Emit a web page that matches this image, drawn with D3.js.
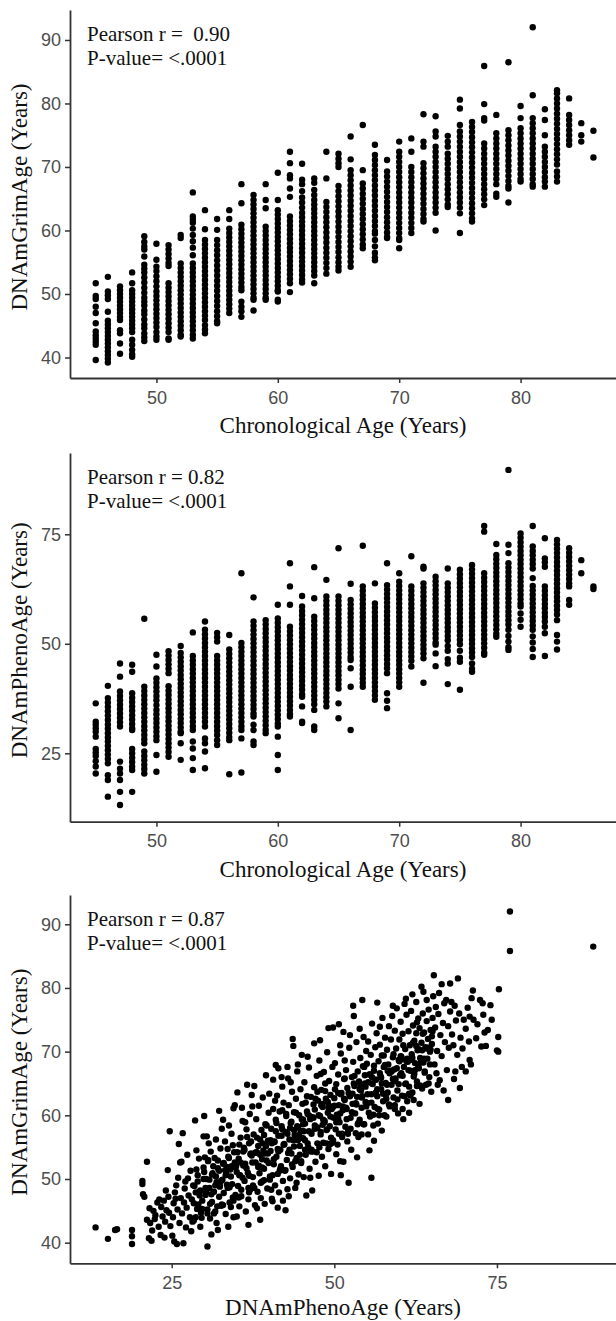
<!DOCTYPE html>
<html>
<head>
<meta charset="utf-8">
<script src="https://cdn.jsdelivr.net/npm/d3@7"></script>
<style>
  body { margin: 0; background: #fff; }
  svg { display: block; }
</style>
</head>
<body>
<svg id="chart" width="616" height="1321"></svg>
<script>
// Chronological ages on the x axis of the first two panels
const ages = [45,46,47,48,49,50,51,52,53,54,55,56,57,58,59,60,61,62,63,64,65,
  66,67,68,69,70,71,72,73,74,75,76,77,78,79,80,81,82,83,84,85,86];

// DNAmGrimAge values per chronological age
const grimByAge = [
  [51.7,49.7,49.2,48,47,45.4,44.1,43.5,43,42.5,42,39.6],
  [52.7,50.4,49.8,49.2,47.2,45.8,45.2,44.6,44,43.4,42.8,42.2,41.6,41,40.4,39.8,39.2],
  [51.2,50.6,50,49.4,48.8,48.2,47.6,47,46.4,45.9,44.3,43.8,42.2,40.6],
  [53.4,51.7,50.6,50,49.4,48.8,48.2,47.6,47,46.4,45.8,45.2,44.6,44,42.8,42,41.2,40.5,40.1],
  [59.1,58.2,57.5,57,55.9,54.6,54,53.4,52.6,51.8,51,50.2,49.4,48.8,48.2,47.4,46.8,46,45.2,44.6,43.8,43.2,42.6],
  [57.9,55.4,54.3,53.6,52.8,52,51.2,50.4,49.7,49,48.3,47.6,46.9,46.2,45.5,44.8,44,43.3,42.8],
  [57.7,57,56.3,55.6,54.9,54.4,51.7,51,50.3,49.6,48.9,48.2,47.5,46.8,46.1,45.4,44.7,44,43,42.8],
  [59.3,58.8,54.8,54.1,53.4,52.7,52,51.3,50.6,49.9,49.2,48.5,47.8,47.1,46.4,45.7,45,44.3,43.6,43.3],
  [66,62.2,61.7,61.2,60.3,59.3,58.3,57.3,56.1,54.8,54.1,53.4,52.7,52,51.3,50.6,49.9,49.2,48.5,47.8,47.1,46.4,45.7,45,44.3,43.6,43],
  [63.2,60.2,58.5,57.8,57.1,56.4,55.7,55,54.3,53.6,52.9,52.2,51.5,50.8,50.1,49.4,48.7,48,47.3,46.6,45.9,45.1,44.4,43.8],
  [61.8,60.1,58.5,57.7,56.9,56.1,55.3,54.5,53.7,52.9,52.1,51.3,50.5,49.7,48.9,48.1,47.3,46.5,45.7,45.4],
  [63.2,61.8,60.3,59.6,58.9,58.2,57.5,56.8,56.1,55.4,54.7,54,53.3,52.6,51.9,51.2,50.5,49.8,49.1,48.4,47.7,47],
  [67.3,64.3,60.9,60.2,59.5,58.8,58.1,57.4,56.7,56,55.3,54.6,53.9,53.2,52.5,51.8,51.1,50.6,48.8,48,47.3,46.4],
  [65.6,64.8,64.1,63.4,62.7,62,61.3,60.6,59.9,59.2,58.5,57.8,57.1,56.4,55.7,55,54.3,53.6,52.9,52.2,51.5,50.8,50.1,49.4,49.1,47.4],
  [67.3,64.8,63.5,60.6,59.9,59.2,58.5,57.8,57.1,56.4,55.7,55,54.3,53.6,52.9,52.2,51.5,50.8,50.1,49.4,49.1],
  [69.1,64.8,63.2,62.5,61.8,61.1,60.4,59.7,59,58.3,57.6,56.9,56.2,55.5,54.8,54.1,53.4,52.7,52,51.3,50.6,50.4,49.1,48.8],
  [72.4,70.6,68.7,68.2,66.6,65.3,62.2,61.5,60.8,60.1,59.4,58.7,58,57.3,56.6,55.9,55.2,54.5,53.8,53.1,52.4,51.7,50.3],
  [70.5,68,67.3,66.2,65.2,64.4,63.6,62.8,62.1,61.4,60.7,60,59.3,58.6,57.9,57.2,56.5,55.8,55.1,54.4,53.7,53,52.3,51.8],
  [68.2,67.5,66.4,65.6,64.8,64.1,63.4,62.7,62,61.3,60.6,59.9,59.2,58.5,57.8,57.1,56.4,55.7,55,54.3,53.6,52.9,51.7],
  [72.4,68.2,64.5,63.7,62.9,62.1,61.3,60.5,59.7,58.9,58.1,57.3,56.5,55.7,54.9,54.1,53.2],
  [72.1,71.3,70.6,70,67,66.2,65.4,64.6,63.8,63,62.2,61.4,60.6,59.8,59,58.2,57.4,56.6,55.8,55,54.3,53.7],
  [74.8,71.2,69.5,68.7,67.9,67.1,66.3,65.5,64.7,63.9,63.1,62.3,61.5,60.7,59.9,59.1,58.3,57.5,56.7,55.9,55.1,54.3],
  [76.6,69.5,67.4,66.6,65.8,65,64.2,63.4,62.6,61.8,61,60.2,59.4,58.6,57.8,57.2],
  [73.5,71.9,71.1,70.3,69.5,68.7,67.9,67.1,66.3,65.5,64.7,63.9,63.1,62.3,61.5,60.7,59.9,59.5,58.5,57.5,56.5,55.8,55.3],
  [71.1,69.3,68.5,67.7,66.9,66.1,65.3,64.5,63.7,62.9,62.1,61.3,60.5,59.7,59,58.8],
  [74,72.4,71.6,70.8,70,69.2,68.4,67.6,66.8,66,65.2,64.4,63.6,62.8,62,61.2,60.4,59.6,58.8,58.5,57.2],
  [74.5,72.4,70,69.2,68.4,67.6,66.8,66,65.2,64.4,63.6,62.8,62,61.2,60.4,59.6],
  [78.3,74,73.2,70.6,69.8,69,68.2,67.4,66.6,65.8,65,64.2,63.4,62.6,61.8,61.4],
  [78,75.6,74.8,73.2,72.4,71.6,70.8,70,69.2,68.4,67.6,66.8,66,65.2,64.4,63.6,62.8,60],
  [74.9,74,73.2,72.1,71.3,70.5,69.7,68.9,68.1,67.3,66.5,65.7,64.9,64.1,63.7],
  [80.6,79.2,76.6,75.6,74.8,74,73.2,72.4,71.6,70.8,70,69.2,68.4,67.6,66.8,66,65.2,64.4,63.6,62.7,59.6],
  [77.1,76.3,75.5,74.7,73.9,73.1,72.3,71.5,70.7,69.9,69.1,68.3,67.5,66.7,65.9,65.1,64.3,63.5,62.7,61.9,61.4],
  [85.9,79.9,77.7,77.3,73.7,72.9,72.1,71.3,70.5,69.7,68.9,68.1,67.3,66.5,65.7,64.9,64],
  [78.2,75.3,74.5,73.7,72.9,72.1,71.3,70.5,69.7,68.9,68.1,67.3,65.8,65.3],
  [86.5,75.8,75,74.2,73.4,72.6,71.8,71,70.2,69.4,68.6,67.8,67,66.6,64.4],
  [79.6,77.7,76.1,75.3,74.5,73.7,72.9,72.1,71.3,70.5,69.7,68.9,68.1,67.7],
  [92,81.3,77.7,76.9,76.1,75.3,74.5,73.7,72.9,72.1,71.3,70.5,69.7,68.9,68.1,67.3,66.9],
  [79.1,77.4,75,73.2,72.4,71.6,70.8,70,69.2,68.4,67.7,66.9],
  [82.1,81.6,80.8,80,79.2,78.4,77.6,76.8,76,75.2,74.4,73.6,72.8,72,71.2,70.4,69.3,68.5,67.7],
  [80.8,78.2,77.4,76.6,75.8,75,74.2,73.5],
  [76.9,75,74],
  [75.7,71.5]
];

// DNAmPhenoAge values per chronological age
const phenoByAge = [
  [36.4,32.2,31.5,30.7,29.9,28.8,26,25.2,24.4,23.2,22,20.4],
  [40.4,37.6,36.6,35.6,34.6,33.6,32.6,31.6,30.6,29.6,28.6,27.7,26.7,25.7,24.7,23.7,22.7,20,18.9,15.1],
  [45.5,42.5,39.1,38.1,37.1,36.1,35.1,34.1,33.1,32.1,31.1,23.1,21.5,20.4,18.9,16.2,13.2],
  [45.2,43.6,38.7,37.7,36.7,35.7,34.7,33.7,32.7,31.7,30.7,30.3,26,25,24,23,22,21.2,16.2],
  [55.7,40.2,39.2,38.2,37.2,36.2,35.2,34.2,33.2,32.2,31.2,30.2,29.2,28.2,27.3,25.4,24.4,23.4,22.4,21.4,20.4],
  [47.5,44.8,42.1,41.1,40.1,39.1,38.1,37.1,36,34.9,33.9,32.9,31.9,30.9,29.9,28.9,28,24.6,20.8],
  [48.3,47.3,46.3,45.3,44.3,43.3,40.3,39.3,38.3,37.3,36.3,35.3,34.3,33.3,32.3,31.3,30.3,29.3,28.3,27.3,26.3,25.3,24.2],
  [49.5,47.9,46.9,45.9,44.9,43.9,42.9,41.9,40.9,39.9,38.9,37.9,36.9,35.9,34.9,33.9,32.9,31.9,30.9,29.9,29.6,27.3,23.5],
  [52.6,47.2,46.2,45.2,44.2,43.2,42.2,41.2,40.2,39.2,38.2,37.2,36.2,35.2,34.2,33.2,32.2,31.2,30.3,27.7,26.1,23.9,21.2],
  [55.1,53.2,52.2,51.2,50.2,49.2,48.2,47.2,46.2,45.2,44.2,43.2,42.2,41.2,40.2,39.2,38.2,37.2,36.2,35.2,34.2,33.2,32.2,31.1,28.4,27.3,25.4,21.6],
  [52.5,51.5,50.5,47.2,46.2,45.2,44.2,43.2,42.2,41.2,40.2,39.2,38.2,37.2,36.2,35.2,34.2,33.2,32.2,31.2,30.2,29.2,28,26.9],
  [52,48.7,47.7,46.7,45.7,44.7,43.7,42.7,41.7,40.7,39.7,38.7,37.7,36.7,35.7,34.7,33.7,32.7,31.7,30.7,29.7,28.7,28,20.2],
  [66.1,50.2,49.2,48.2,47.2,46.2,45.2,44.2,43.2,42.2,41.2,40.2,39.2,38.2,37.2,36.2,35.2,34.2,33.2,32.2,31.2,30.3,28.4,20.6],
  [60.6,55.1,54.1,53.1,52.1,51.1,50.1,49.1,48.1,47.1,46.1,45.1,44.1,43.1,42.1,41.1,40.1,39.1,38.1,37.1,36.1,35.1,34.1,33.4,31.5,30.3,27.7,26.9],
  [55.4,54.4,53.4,52.4,51.4,50.4,49.4,48.4,47.4,46.4,45.4,44.4,43.4,42.4,41.4,40.4,39.4,38.4,37.4,36.4,35.4,34.4,33.4,32.4,31.4,30.4,29.6],
  [58.9,55.8,54.8,53.8,52.8,51.8,50.8,49.8,48.8,47.8,46.8,45.8,44.8,43.8,42.8,41.8,40.8,39.8,38.8,37.8,36.8,35.8,34.8,33.8,32.8,31.8,31.1,28.8,24.6,21.2],
  [68.4,63.1,58.9,53.9,52.9,51.9,50.9,49.9,48.9,47.9,46.9,45.9,44.9,43.9,42.9,41.9,40.9,39.9,38.9,37.9,36.9,35.9,34.9,33.9,33.4],
  [60.9,58.5,57.5,56.5,55.5,54.5,53.5,52.5,51.5,50.5,49.5,48.5,47.5,46.5,45.5,44.5,43.5,42.5,41.5,40.5,39.5,38.5,37.9,35.7,32.2,31.9],
  [67.5,60.4,56.2,55.2,54.2,53.2,52.2,51.2,50.2,49.2,48.2,47.2,46.2,45.2,44.2,43.2,42.2,41.2,40.2,39.2,38.2,37.2,36.2,34.9,31.1,30.3],
  [64.6,60.8,59.8,58.8,57.8,56.8,55.8,54.8,53.8,52.8,51.8,50.8,49.8,48.8,47.8,46.8,45.8,44.8,43.8,42.8,41.8,40.8,39.8,38.8,37.8,36.8,35.7],
  [71.8,60.8,59.8,58.8,57.8,56.8,55.8,54.8,53.8,52.8,51.8,50.8,49.8,48.8,47.8,46.8,45.8,44.8,43.8,42.8,41.8,40.8,39.8,36.4,33],
  [63.7,60,59,58,57,56,55,54,53,52,51,50,49,48,47,46.3,44.4,40.2,30.3],
  [72.4,63.1,62.1,61.1,60.1,59.1,58.1,57.1,56.1,55.1,54.1,53.1,52.1,51.1,50.1,49.1,48.1,47.1,46.1,45.1,44.1,43.1,42.1,41.1,40.2],
  [63.8,59.2,58.2,57.2,56.2,55.2,54.2,53.2,52.2,51.2,50.2,49.2,48.2,47.2,46.2,45.2,44.2,43.2,42.2,41.2,40.2,39.2,38.2,37.2],
  [68.4,63.4,62.4,61.4,60.4,59.4,58.4,57.4,56.4,55.4,54.4,53.4,52.4,51.4,50.4,49.4,48.4,47.4,46.4,45.4,44.4,43.3,38.7,37,35.3],
  [66.1,64.2,63.2,62.2,61.2,60.2,59.2,58.2,57.2,56.2,55.2,54.2,53.2,52.2,51.2,50.2,49.2,48.2,47.2,46.2,45.2,44.2,43.2,42.2,41.2,40.2],
  [70,63.1,62.1,61.1,60.1,59.1,58.1,57.1,56.1,55.1,54.1,53.1,52.1,51.1,50.1,49.1,48.1,47.1,46.1,44.8],
  [67.6,67.2,63.8,62.8,61.8,60.8,59.8,58.8,57.8,56.8,55.8,54.8,53.8,52.8,51.8,50.8,49.8,48.8,47.8,46.7,41.1],
  [65.3,64.3,63.3,62.3,61.3,60.3,59.3,58.3,57.3,56.3,55.3,54.3,53.3,52.3,51.3,50.3,49.8,47.8,44.9],
  [67.2,63.8,62.8,61.8,60.8,59.8,58.8,57.8,56.8,55.8,54.8,53.8,52.8,51.8,50.8,49.5,48.4,46.5,45.5,40.8],
  [66.9,65.9,64.9,63.9,62.9,61.9,60.9,59.9,58.9,57.9,56.9,55.9,54.9,53.9,52.9,51.9,50.9,49.9,48.4,46.8,45.9,39.5],
  [68,67,66,65,64,63,62,61,60,59,58,57,56,55,54,53,52,51,50,49,48,47,45.5,44.3,43.6],
  [76.9,75.6,66.1,65.1,64.1,63.1,62.1,61.1,60.1,59.1,58.1,57.1,56.1,55.1,54.1,53.1,52.1,51.1,50.1,49.1,48,47.5],
  [72.8,70.3,69.3,68.3,67.3,66.3,65.3,64.3,63.3,62.3,61.3,60.3,59.3,58.3,57.3,56.3,55.3,54.3,53.3,52.3,51.6],
  [89.7,72.6,70.7,68.4,67.4,66.4,65.4,64.4,63.4,62.4,61.4,60.4,59.4,58.4,57.4,56.4,55.4,54.4,53.2,51.8,50.5,49.2,48.6],
  [75.2,74.2,73.2,72.2,71.2,70.2,69.2,68.2,67.2,66.2,65.2,64.2,63.2,62.2,61.2,60.2,59.2,58.5,56.9,55.5,53.9],
  [76.9,72.2,71.2,70.2,69.2,68.2,67.2,65,63.2,62.2,61.2,60.2,59.2,58.2,57.2,56.2,55.2,54.2,53.2,51.7,50.3,48.8,47],
  [74.1,69.5,68.6,67.6,63.1,62.1,61.1,60.1,59.1,58.1,57.1,56.1,55.1,53.9,52.4,47.2],
  [73.7,72.7,71.7,70.7,69.7,68.7,67.7,66.7,65.7,64.7,63.7,62.7,61.7,60.7,59.7,58.7,57.7,56.7,55.4,52,50.5,48.7],
  [71.8,70.8,69.8,68.8,67.8,66.8,65.8,64.8,63.8,63.1,60,58.9],
  [69.1,66.1],
  [63.1,62.5]
];

// DNAmPhenoAge (x) vs DNAmGrimAge (y), split by PhenoAge range
const cloudLow = [
  [13.3,42.4],[15.2,40.6],[16.3,42.0],[16.6,42.1],[18.9,42.0],[18.9,41.0],[18.9,39.8],[20.5,49.7],[20.5,49.2],
  [20.6,47.6],[20.8,47.2],[21.2,52.7],[21.2,43.6],[21.7,43.1],[21.6,45.4],[21.5,40.7],[21.9,40.3],[22.2,45.0],
  [22.5,44.3],[22.8,46.3],[23.1,46.8],[23.0,42.5],[23.3,41.2],[23.6,44.1],[23.8,46.6],[24.0,43.3],[24.2,45.1],
  [24.4,51.4],[24.5,47.2],[24.6,44.7],[24.8,42.6],[24.7,57.5],[22.4,43.7],[23.4,45.6],[24.1,48.2],[22.0,41.9],
  [23.9,40.8],[25.1,41.1],[25.4,40.2],[25.8,39.8],[26.8,39.9],[25.2,44.0],[25.3,46.2],[25.5,47.9],[25.7,49.0],
  [25.9,45.2],[26.1,55.5],[26.3,52.6],[26.5,52.7],[26.7,57.2],[26.2,43.1],[26.4,47.0],[26.6,44.6],[26.9,46.3],
  [27.0,48.5],[27.2,42.4],[27.3,45.5],[27.5,50.1],[27.6,47.4],[27.8,44.0],[27.9,51.3],[28.1,46.8],[28.3,49.0],
  [28.4,43.5],[28.6,59.2],[28.7,47.9],[28.9,45.3],[29.0,50.6],[29.2,53.2],[29.3,48.0],[29.5,44.7],[29.7,46.6],
  [29.9,56.7],[29.9,51.8],[28.0,41.8],[29.4,42.5],[26.0,50.2],[27.4,53.8],[28.8,54.5],[25.6,46.9],[27.1,49.6]
];
const cloudMidLow = [
  [30.0,59.9],[30.4,56.7],[30.5,39.4],[30.2,47.5],[30.3,50.0],[30.5,45.2],[30.6,52.8],[30.8,48.6],[30.9,43.8],
  [31.0,54.3],[31.2,46.4],[31.3,50.9],[31.5,48.0],[31.6,53.3],[31.7,44.9],[31.9,43.1],[31.9,49.5],[32.1,42.0],
  [32.1,51.7],[32.3,60.7],[32.3,47.2],[32.5,54.8],[32.6,45.8],[32.8,49.9],[32.9,59.3],[32.9,52.4],[33.0,47.8],
  [33.2,55.9],[33.3,44.5],[33.4,50.8],[33.6,48.6],[33.7,42.5],[33.7,53.5],[33.9,46.3],[34.0,51.5],[34.2,57.1],
  [34.3,49.2],[34.5,61.1],[34.5,44.0],[34.6,54.2],[34.7,61.6],[34.8,47.5],[34.9,52.0],[35.0,44.1],[31.1,41.3],
  [32.7,57.9],[33.8,58.4],[30.7,55.6],[31.8,56.2],[34.1,45.6],[32.4,49.0],[33.5,51.9],[30.1,53.4],[34.4,55.3],
  [35.1,63.6],[35.2,48.9],[35.3,53.2],[35.4,45.7],[35.5,50.6],[35.6,56.5],[35.7,47.3],[35.9,59.1],[36.0,52.1],
  [36.1,54.9],[36.2,49.7],[36.4,44.9],[36.5,57.8],[36.6,64.8],[36.7,51.0],[36.8,46.8],[36.9,55.6],[37.0,60.2],
  [37.1,48.4],[37.3,63.2],[37.3,53.7],[37.5,50.3],[37.6,57.0],[37.7,64.6],[37.8,45.9],[37.9,52.6],[38.0,59.4],
  [38.1,45.4],[38.2,48.0],[38.3,55.2],[38.4,61.5],[38.5,50.9],[38.6,53.8],[38.7,47.0],[38.8,57.7],[38.9,49.6],
  [39.0,62.8],[39.1,54.5],[39.2,51.6],[39.3,46.1],[39.4,58.6],[39.5,66.3],[39.6,52.9],[39.7,48.5],[39.8,56.0],
  [39.9,60.4],[36.3,58.9],[37.4,61.4],[38.6,43.6],[36.8,42.8],[35.8,61.2],[37.2,55.9],[38.9,51.8],[35.4,55.4],
  [39.2,56.9],[36.9,47.9],[38.1,54.2]
];
const cloudMid = [
  [40.0,63.4],[40.1,50.4],[40.2,54.4],[40.3,57.9],[40.4,46.9],[40.5,46.5],[40.6,65.6],[40.6,61.0],[40.7,52.3],
  [40.8,55.8],[40.9,49.0],[41.0,67.9],[41.0,59.3],[41.1,53.5],[41.2,63.1],[41.3,50.8],[41.4,67.4],[41.4,56.8],
  [41.5,47.9],[41.6,60.6],[41.7,54.6],[41.8,52.0],[41.9,58.3],[42.0,64.5],[42.1,46.6],[42.1,49.7],[42.2,62.0],
  [42.3,55.5],[42.4,51.3],[42.5,57.4],[42.6,59.9],[42.7,53.0],[42.8,48.4],[42.9,65.8],[43.0,61.6],[43.1,56.2],
  [43.2,50.1],[43.3,58.8],[43.4,54.0],[43.5,63.7],[43.6,72.0],[43.6,51.9],[43.7,70.9],[43.8,60.5],[43.9,56.9],
  [44.0,48.6],[44.1,62.6],[44.2,53.3],[44.3,66.9],[44.4,58.1],[44.5,50.7],[44.6,60.0],[44.7,55.2],[44.8,64.1],
  [44.9,52.5],[45.0,69.5],[40.3,48.3],[41.3,45.5],[42.5,45.1],[43.0,47.3],[44.2,49.4],[42.8,67.6],[41.9,66.0],
  [44.4,68.0],[43.3,65.2],[40.9,62.3],[42.0,60.8],[44.8,57.6],[43.8,55.1],
  [45.1,61.8],[45.2,56.4],[45.3,50.3],[45.4,65.2],[45.5,58.7],[45.6,53.8],[45.7,47.4],[45.8,63.0],[45.9,60.2],
  [46.0,55.0],[46.1,67.5],[46.2,51.6],[46.3,59.4],[46.4,62.9],[46.5,57.1],[46.6,48.2],[46.7,54.3],[46.9,71.3],
  [46.9,64.4],[47.0,60.9],[47.1,52.7],[47.2,58.0],[47.3,66.2],[47.4,55.6],[47.5,62.3],[47.6,50.5],[47.7,68.6],
  [47.8,71.8],[47.8,59.9],[47.9,57.0],[48.0,64.0],[48.1,53.5],[48.2,61.3],[48.3,55.7],[48.4,66.8],[48.5,59.1],
  [48.6,52.0],[48.7,62.6],[48.8,57.7],[48.9,69.9],[49.0,60.4],[49.1,73.7],[49.1,54.7],[49.2,65.4],[49.3,58.3],
  [49.4,63.2],[49.5,50.8],[49.6,61.0],[49.7,67.6],[49.8,73.8],[49.8,56.1],[49.9,59.6],[45.9,69.2],[47.4,63.7],
  [48.6,65.0],[46.8,61.7],[45.5,54.6],[48.2,58.5],[49.4,55.5],[46.3,50.2],[47.0,57.9],[49.0,62.1],[45.2,59.3],
  [47.9,66.5]
];
const cloudMidHigh = [
  [50.0,62.7],[50.1,68.2],[50.2,57.8],[50.3,64.9],[50.4,60.1],[50.5,55.4],[50.6,66.4],[50.7,74.3],[50.7,61.6],
  [50.8,58.9],[50.9,52.8],[51.0,69.7],[51.1,63.5],[51.2,56.6],[51.3,60.8],[51.4,73.1],[51.4,52.7],[51.5,65.7],
  [51.6,62.4],[51.7,58.2],[51.8,67.1],[51.9,61.0],[52.0,64.3],[52.1,57.4],[52.2,49.4],[52.3,70.6],[52.4,63.1],
  [52.5,59.6],[52.6,54.6],[52.7,66.0],[52.8,61.8],[52.9,77.2],[52.9,68.4],[53.0,75.6],[53.1,64.6],[53.2,60.3],
  [53.3,57.2],[53.4,71.5],[53.5,62.9],[53.6,66.9],[53.7,56.6],[53.8,65.3],[53.9,59.3],[54.0,69.0],[54.1,63.9],
  [54.2,61.2],[54.3,78.1],[54.4,67.7],[54.5,72.3],[54.6,58.6],[54.7,65.0],[54.8,62.1],[54.9,70.1],[50.3,53.9],
  [51.0,50.6],[52.0,55.9],[53.5,53.4],[54.2,57.0],[50.9,71.0],[51.6,68.6],[52.4,72.6],[53.9,73.6],[50.6,59.5],
  [54.7,66.3],
  [55.0,68.1],[55.1,63.3],[55.2,71.6],[55.3,60.4],[55.4,54.5],[55.5,66.4],[55.6,69.5],[55.7,50.2],[55.7,62.0],
  [55.8,74.4],[55.9,64.9],[56.0,58.4],[56.1,67.0],[56.2,61.3],[56.3,70.7],[56.4,65.6],[56.5,72.9],[56.6,77.7],
  [56.6,63.0],[56.7,58.7],[56.8,68.5],[56.9,60.9],[57.0,71.1],[57.1,66.2],[57.2,64.1],[57.3,69.4],[57.4,75.3],
  [57.5,62.2],[57.6,67.6],[57.7,60.0],[57.8,72.2],[57.9,65.1],[58.0,59.8],[58.1,70.3],[58.2,63.6],[58.3,68.0],
  [58.4,74.0],[58.5,66.6],[58.6,61.5],[58.7,71.9],[58.8,64.8],[59.0,77.2],[59.0,69.1],[59.1,62.8],[59.2,67.2],
  [59.3,73.3],[59.4,65.8],[59.5,70.5],[59.6,76.8],[59.7,63.9],[59.8,60.3],[59.9,68.7],[55.2,57.0],[56.1,56.0],
  [57.3,57.6],[58.0,62.6],[59.3,61.0],[55.8,66.0],[57.0,73.9],[58.9,75.6]
];
const cloudHigh = [
  [60.0,71.9],[60.1,66.3],[60.2,74.7],[60.3,69.2],[60.4,63.1],[60.6,59.4],[60.5,72.8],[60.7,67.6],[60.8,77.5],
  [60.9,70.4],[61.0,65.0],[61.1,75.8],[61.2,62.2],[61.3,68.4],[61.4,73.2],[61.5,64.5],[61.6,71.0],[61.7,67.0],
  [61.8,76.4],[61.9,69.6],[62.0,63.6],[62.1,74.1],[62.2,66.1],[62.3,71.7],[62.4,68.2],[62.6,77.8],[62.6,72.9],
  [62.7,65.3],[62.8,70.2],[62.9,75.2],[63.0,67.4],[63.1,73.7],[63.2,69.0],[63.4,80.2],[63.4,71.4],[63.5,64.2],
  [63.6,76.0],[63.7,79.4],[63.7,68.3],[63.8,73.0],[63.9,66.7],[64.0,70.7],[64.2,78.1],[64.2,74.8],[64.3,68.9],
  [64.4,72.0],[64.5,76.6],[64.7,70.0],[64.9,63.7],[64.8,73.4],[60.5,61.0],[61.5,60.4],[62.2,62.4],[63.1,61.8],
  [64.6,66.0],[61.0,78.3],[62.0,79.0],[60.4,68.8],[62.7,74.6],
  [65.0,71.2],[65.1,75.3],[65.3,82.0],[65.4,68.0],[65.5,73.8],[65.6,77.0],[65.8,70.1],[65.9,64.8],[66.0,75.9],
  [66.2,65.5],[66.3,72.6],[66.5,80.6],[66.5,69.3],[66.7,74.5],[66.9,77.6],[67.0,71.5],[67.2,78.1],[67.3,67.1],
  [67.5,62.4],[67.5,74.0],[67.6,70.6],[67.8,80.7],[67.8,76.3],[68.0,77.8],[68.1,72.7],[68.3,71.0],[68.5,77.2],
  [68.6,66.9],[68.7,74.9],[68.9,69.5],[69.0,81.5],[69.2,76.0],[69.4,72.2],[69.6,67.6],[69.7,70.5],[69.9,75.0],
  [65.7,66.6],[66.8,63.9],[68.4,65.7],[69.3,64.3],[65.2,78.7],[66.1,79.2],
  [70.2,73.6],[70.5,76.9],[70.7,71.6],[70.8,68.7],[70.8,75.5],[71.1,78.4],[71.3,79.6],[71.4,75.0],[71.8,72.1],
  [72.0,74.3],[72.4,78.1],[72.6,70.8],[72.8,77.6],[72.9,75.8],[73.1,73.0],[73.3,70.9],[73.6,73.4],[74.0,77.3],
  [74.2,75.0],[75.0,70.2],[75.2,72.3],[75.3,79.8],[75.2,70.0],[70.2,66.9],[71.0,68.0],
  [77.0,92.0],[77.0,85.8],[89.8,86.5]
];
// the nearly solid core of the cloud
const cloudCore = [
  [28.2,43.3],[28.5,48.9],[28.8,51.5],[29.1,46.0],[29.4,48.2],[29.7,45.3],[30.0,51.1],[30.3,47.9],[30.6,53.0],
  [30.9,46.1],[31.2,50.7],[31.5,44.6],[31.8,50.4],[32.1,52.9],[32.4,48.8],[32.7,46.0],[33.0,52.5],[33.3,50.6],
  [33.6,54.7],[33.9,48.7],[34.2,52.0],[34.5,46.6],[34.8,51.8],[35.1,54.2],[35.4,50.6],[35.7,48.3],[36.0,54.3],
  [36.3,52.4],[36.6,56.6],[36.9,50.5],[37.2,54.0],[37.5,49.0],[37.8,54.1],[38.1,56.5],[38.4,52.1],[38.7,49.4],
  [39.0,55.6],[39.3,54.0],[39.6,58.4],[39.9,52.5],[40.2,56.1],[40.5,50.6],[40.8,55.9],[41.1,58.8],[41.4,54.3],
  [41.7,51.6],[42.0,57.8],[42.3,55.4],[42.6,60.2],[42.9,54.1],[43.2,58.0],[43.5,52.3],[43.8,57.7],[44.1,60.4],
  [44.4,56.1],[44.7,53.8],[45.0,59.4],[45.3,57.5],[45.6,62.0],[45.9,55.6],[46.2,59.9],[46.5,54.6],[46.8,59.6],
  [47.1,62.6],[47.4,58.1],[47.7,55.0],[48.0,61.6],[48.3,59.3],[48.6,63.8],[48.9,57.8],[49.2,61.5],[49.5,56.5],
  [49.8,61.3],[50.1,64.1],[50.4,60.0],[50.7,57.1],[51.0,63.3],[51.3,61.4],[51.6,65.8],[51.9,59.4],[52.2,63.5],
  [52.5,57.9],[52.8,63.4],[53.1,66.2],[53.4,61.7],[53.7,58.8],[54.0,64.8],[54.3,63.0],[54.6,67.6],[54.9,61.4],
  [55.2,65.2],[55.5,59.8],[55.8,65.0],[56.1,67.8],[56.4,63.6],[56.7,61.0],[57.0,66.6],[57.3,65.0],[57.6,69.4],
  [57.9,63.2],[58.2,67.0],[58.5,61.4],[58.8,66.9],[59.1,69.6],[59.4,65.4],[59.7,62.5],[60.0,68.5],[60.3,66.6],
  [60.6,71.0],[60.9,64.9],[61.2,68.9],[61.5,63.4],[61.8,68.7],[62.1,71.4],[62.4,67.1],[62.7,64.6],[63.0,70.4],
  [63.3,68.3],[63.6,72.8],[63.9,66.9],[64.2,70.5],[64.5,65.0],[64.8,70.3],[65.1,73.2],
  [28.4,46.2],[28.7,44.0],[29.0,49.6],[29.3,47.4],[29.6,43.9],[29.9,50.0],[30.2,48.6],[30.5,44.6],[30.8,49.9],
  [31.1,47.6],[31.4,52.0],[31.7,49.0],[32.0,45.7],[32.3,51.3],[32.6,49.7],[32.9,45.9],[33.2,51.4],[33.5,49.1],
  [33.8,53.3],[34.1,50.4],[34.4,47.1],[34.7,52.6],[35.0,51.1],[35.3,47.1],[35.6,52.6],[35.9,50.2],[36.2,54.6],
  [36.5,51.7],[36.8,48.6],[37.1,53.9],[37.4,52.6],[37.7,48.6],[38.0,54.2],[38.3,51.9],[38.6,56.2],[38.9,53.1],
  [39.2,49.8],[39.5,55.2],[39.8,54.0],[40.1,49.9],[40.4,55.6],[40.7,53.1],[41.0,57.5],[41.3,54.7],[41.6,51.3],
  [41.9,56.8],[42.2,55.4],[42.5,51.4],[42.8,57.1],[43.1,54.6],[43.4,59.0],[43.7,56.1],[44.0,52.8],[44.3,58.3],
  [44.6,56.9],[44.9,52.8],[45.2,58.6],[45.5,56.1],[45.8,60.6],[46.1,57.5],[46.4,54.3],[46.7,59.7],[47.0,58.4],
  [47.3,54.2],[47.6,60.0],[47.9,57.4],[48.2,61.8],[48.5,58.9],[48.8,55.6],[49.1,61.2],[49.4,59.8],[49.7,55.7],
  [50.0,61.5],[50.3,58.9],[50.6,63.5],[50.9,60.3],[51.2,57.1],[51.5,62.6],[51.8,61.2],[52.1,57.1],[52.4,63.0],
  [52.7,60.5],[53.0,65.0],[53.3,61.9],[53.6,58.6],[53.9,64.1],[54.2,62.8],[54.5,58.6],[54.8,64.5],[55.1,61.9],
  [55.4,66.4],[55.7,63.3],[56.0,60.1],[56.3,65.6],[56.6,64.1],[56.9,60.0],[57.2,65.9],[57.5,63.4],[57.8,67.9],
  [58.1,64.8],[58.4,61.7],[58.7,67.0],[59.0,65.7],[59.3,61.6],[59.6,67.4],[59.9,64.9],[60.2,69.3],[60.5,66.2],
  [60.8,63.0],[61.1,68.5],[61.4,67.1],[61.7,63.1],[62.0,69.0],[62.3,66.5],[62.6,70.9],[62.9,67.8],[63.2,64.7],
  [63.5,70.2],[63.8,68.9],[64.1,64.8],[64.4,70.6],[64.7,68.0],[65.0,72.4]
];

// Texts and ticks
const statLines = [
  ["Pearson r =  0.90", "P-value= <.0001"],
  ["Pearson r = 0.82", "P-value= <.0001"],
  ["Pearson r = 0.87", "P-value= <.0001"]
];
const xTitles = ["Chronological Age (Years)", "Chronological Age (Years)", "DNAmPhenoAge (Years)"];
const yTitles = ["DNAmGrimAge (Years)", "DNAmPhenoAge (Years)", "DNAmGrimAge (Years)"];
const ageTicks = [50, 60, 70, 80];
const grimTicks = [40, 50, 60, 70, 80, 90];
const phenoTicks = [25, 50, 75];

const serif = "'Times New Roman', 'Liberation Serif', serif";
const sans = "Arial, 'Liberation Sans', sans-serif";
const axisColor = "#333";
const height = 1321;

const left = 70, right = 616;

const panels = [
  {
    top: 10, bottom: 378,
    xDomain: [42.88, 87.86], yDomain: [36.77, 94.72],
    xTicks: ageTicks, yTicks: grimTicks,
    points: ages.flatMap((a, i) => grimByAge[i].map(v => [a, v]))
  },
  {
    top: 453, bottom: 821.7,
    xDomain: [42.88, 87.86], yDomain: [9.38, 93.56],
    xTicks: ageTicks, yTicks: phenoTicks,
    points: ages.flatMap((a, i) => phenoByAge[i].map(v => [a, v]))
  },
  {
    top: 895, bottom: 1263.3,
    xDomain: [9.37, 93.3], yDomain: [36.76, 94.6],
    xTicks: phenoTicks, yTicks: grimTicks,
    points: [].concat(cloudLow, cloudMidLow, cloudMid, cloudMidHigh, cloudHigh, cloudCore)
  }
];

const svg = d3.select("#chart");

panels.forEach((p, i) => {
  const x = d3.scaleLinear().domain(p.xDomain).range([left, right]);
  const y = d3.scaleLinear().domain(p.yDomain).range([p.bottom, p.top]);
  const g = svg.append("g");

  // Points
  g.append("g")
    .selectAll("circle")
    .data(p.points)
    .join("circle")
    .attr("cx", d => x(d[0]))
    .attr("cy", d => y(d[1]))
    .attr("r", 3.2)
    .attr("fill", "#000");

  // X axis
  const gx = g.append("g")
    .attr("transform", `translate(0,${p.bottom})`)
    .call(d3.axisBottom(x).tickValues(p.xTicks).tickSize(5).tickSizeOuter(0).tickPadding(8));

  // Y axis
  const gy = g.append("g")
    .attr("transform", `translate(${left},0)`)
    .call(d3.axisLeft(y).tickValues(p.yTicks).tickSize(5).tickSizeOuter(0).tickPadding(4));

  [gx, gy].forEach(ax => {
    ax.select(".domain").attr("stroke", axisColor).attr("stroke-width", 1.8);
    ax.selectAll(".tick line").attr("stroke", axisColor).attr("stroke-width", 1.5);
    ax.selectAll(".tick text")
      .attr("font-family", sans)
      .attr("font-size", 18)
      .attr("fill", "#4d4d4d");
  });

  // Axis titles
  g.append("text")
    .attr("x", (left + right) / 2)
    .attr("y", Math.min(p.bottom + 55, height - 6))
    .attr("text-anchor", "middle")
    .attr("font-family", serif)
    .attr("font-size", 23)
    .attr("fill", "#111")
    .text(xTitles[i]);

  g.append("text")
    .attr("transform", `translate(27,${(p.top + p.bottom) / 2 + 3}) rotate(-90)`)
    .attr("text-anchor", "middle")
    .attr("font-family", serif)
    .attr("font-size", 23)
    .attr("fill", "#111")
    .text(yTitles[i]);

  // Correlation note
  statLines[i].forEach((line, k) => {
    g.append("text")
      .attr("x", 87)
      .attr("y", p.top + 31 + k * 24)
      .attr("font-family", serif)
      .attr("font-size", 21)
      .attr("fill", "#111")
      .style("white-space", "pre")
      .text(line);
  });
});
</script>
</body>
</html>
